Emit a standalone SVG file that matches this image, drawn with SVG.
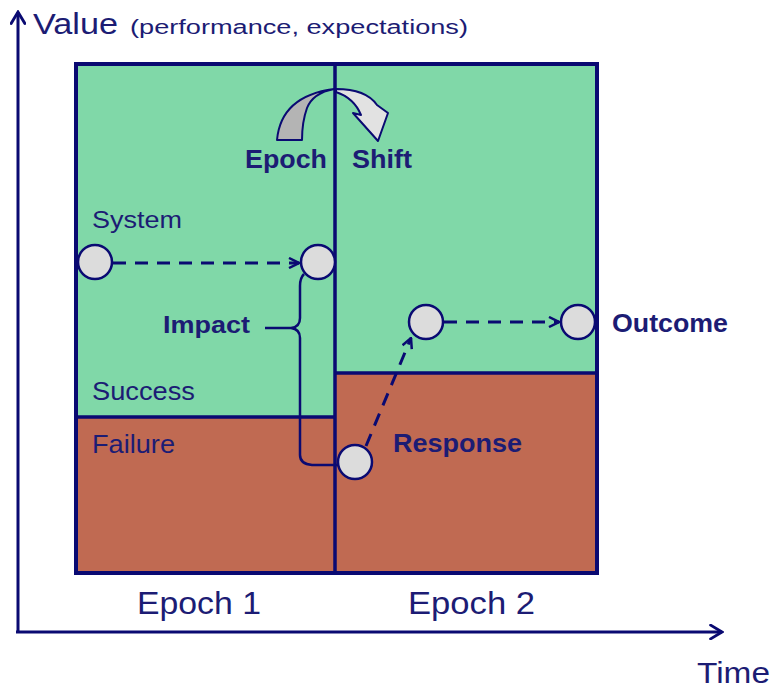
<svg xmlns="http://www.w3.org/2000/svg" width="773" height="688" viewBox="0 0 773 688">
<style>
.t{font-family:"Liberation Sans",Arial,sans-serif;fill:#1c1c74}
.b{font-weight:bold}
.line{stroke:#0a0a72;fill:none}
.dash{stroke:#0a0a72;stroke-width:3;stroke-dasharray:13 9;fill:none}
.node{fill:#dcdcdc;stroke:#0a0a72;stroke-width:2.5}
</style>
<defs>
<marker id="open" viewBox="0 0 12 12" refX="11" refY="6" markerWidth="12" markerHeight="12" markerUnits="userSpaceOnUse" orient="auto">
<path d="M1,1 L11,6 L1,11" fill="none" stroke="#0a0a72" stroke-width="2.5"/>
</marker>
<marker id="axis" viewBox="0 0 14 14" refX="12" refY="7" markerWidth="16" markerHeight="16" markerUnits="userSpaceOnUse" orient="auto">
<path d="M2,1 L12,7 L2,13" fill="none" stroke="#0a0a72" stroke-width="2.5" stroke-linecap="round"/>
</marker>
</defs>
<rect width="773" height="688" fill="#ffffff"/>
<g id="regions">
<rect x="76" y="64" width="259" height="353" fill="#80d8a8"/>
<rect x="76" y="417" width="259" height="156" fill="#c06a52"/>
<rect x="335" y="64" width="262" height="309" fill="#80d8a8"/>
<rect x="335" y="373" width="262" height="200" fill="#c06a52"/>
<rect x="76" y="64" width="521" height="509" class="line" stroke-width="4"/>
<line x1="335" y1="64" x2="335" y2="573" class="line" stroke-width="3.5"/>
<line x1="76" y1="417" x2="335" y2="417" class="line" stroke-width="3.5"/>
<line x1="335" y1="373" x2="597" y2="373" class="line" stroke-width="3.5"/>
</g>
<g id="axes">
<path d="M18,632 L18,12" class="line" stroke-width="3" marker-end="url(#axis)"/>
<path d="M16,632 L722,632" class="line" stroke-width="3" marker-end="url(#axis)"/>
<text x="33" y="34" class="t" font-size="30" textLength="85" lengthAdjust="spacingAndGlyphs">Value</text>
<text x="130" y="34" class="t" font-size="20" textLength="338" lengthAdjust="spacingAndGlyphs">(performance, expectations)</text>
<text x="697" y="683" class="t" font-size="30" textLength="73" lengthAdjust="spacingAndGlyphs">Time</text>
<text x="137" y="614" class="t" font-size="31" textLength="124" lengthAdjust="spacingAndGlyphs">Epoch 1</text>
<text x="408" y="614" class="t" font-size="31" textLength="127" lengthAdjust="spacingAndGlyphs">Epoch 2</text>
</g>
<g id="epoch-shift">
<path d="M277,140 Q281,96 334,89 Q313,93 307,108 Q302,122 302,140 Z" fill="#b4b4b4" stroke="#0a0a72" stroke-width="2" stroke-linejoin="round"/>
<path d="M336,89 Q366,89 377,105 L388,113 L378,141 L353,113 L361,115 Q354,98 336,92 Z" fill="#e2e2e2" stroke="#0a0a72" stroke-width="2" stroke-linejoin="round"/>
<text x="245" y="168" class="t b" font-size="26" textLength="82" lengthAdjust="spacingAndGlyphs">Epoch</text>
<text x="352" y="168" class="t b" font-size="26" textLength="60" lengthAdjust="spacingAndGlyphs">Shift</text>
</g>
<g id="labels">
<text x="92" y="228" class="t" font-size="24" textLength="90" lengthAdjust="spacingAndGlyphs">System</text>
<text x="92" y="400" class="t" font-size="25" textLength="103" lengthAdjust="spacingAndGlyphs">Success</text>
<text x="92" y="453" class="t" font-size="25" textLength="83" lengthAdjust="spacingAndGlyphs">Failure</text>
</g>
<g id="connectors">
<path d="M113,263 L299,263" class="dash" marker-end="url(#open)"/>
<path d="M444,322 L559,322" class="dash" marker-end="url(#open)"/>
<path d="M366,446 L411,338" class="dash" marker-end="url(#open)"/>
<path d="M304,274 Q300,278 300,286 L300,318 Q300,327 291,328 L265,328 M291,328 Q300,329 300,338 L300,455 Q300,464 312,465 L340,465" class="line" stroke-width="2.5"/>
</g>
<g id="node-system"><circle cx="95" cy="262" r="17" class="node"/></g>
<g id="node-impact"><circle cx="318" cy="262" r="17" class="node"/>
<text x="163" y="333" class="t b" font-size="24" textLength="87" lengthAdjust="spacingAndGlyphs">Impact</text></g>
<g id="node-response"><circle cx="355" cy="462" r="17" class="node"/>
<text x="393" y="452" class="t b" font-size="26" textLength="129" lengthAdjust="spacingAndGlyphs">Response</text></g>
<g id="node-recovered"><circle cx="426" cy="322" r="17" class="node"/></g>
<g id="node-outcome"><circle cx="578" cy="322" r="17" class="node"/>
<text x="612" y="332" class="t b" font-size="26" textLength="116" lengthAdjust="spacingAndGlyphs">Outcome</text></g>
</svg>
